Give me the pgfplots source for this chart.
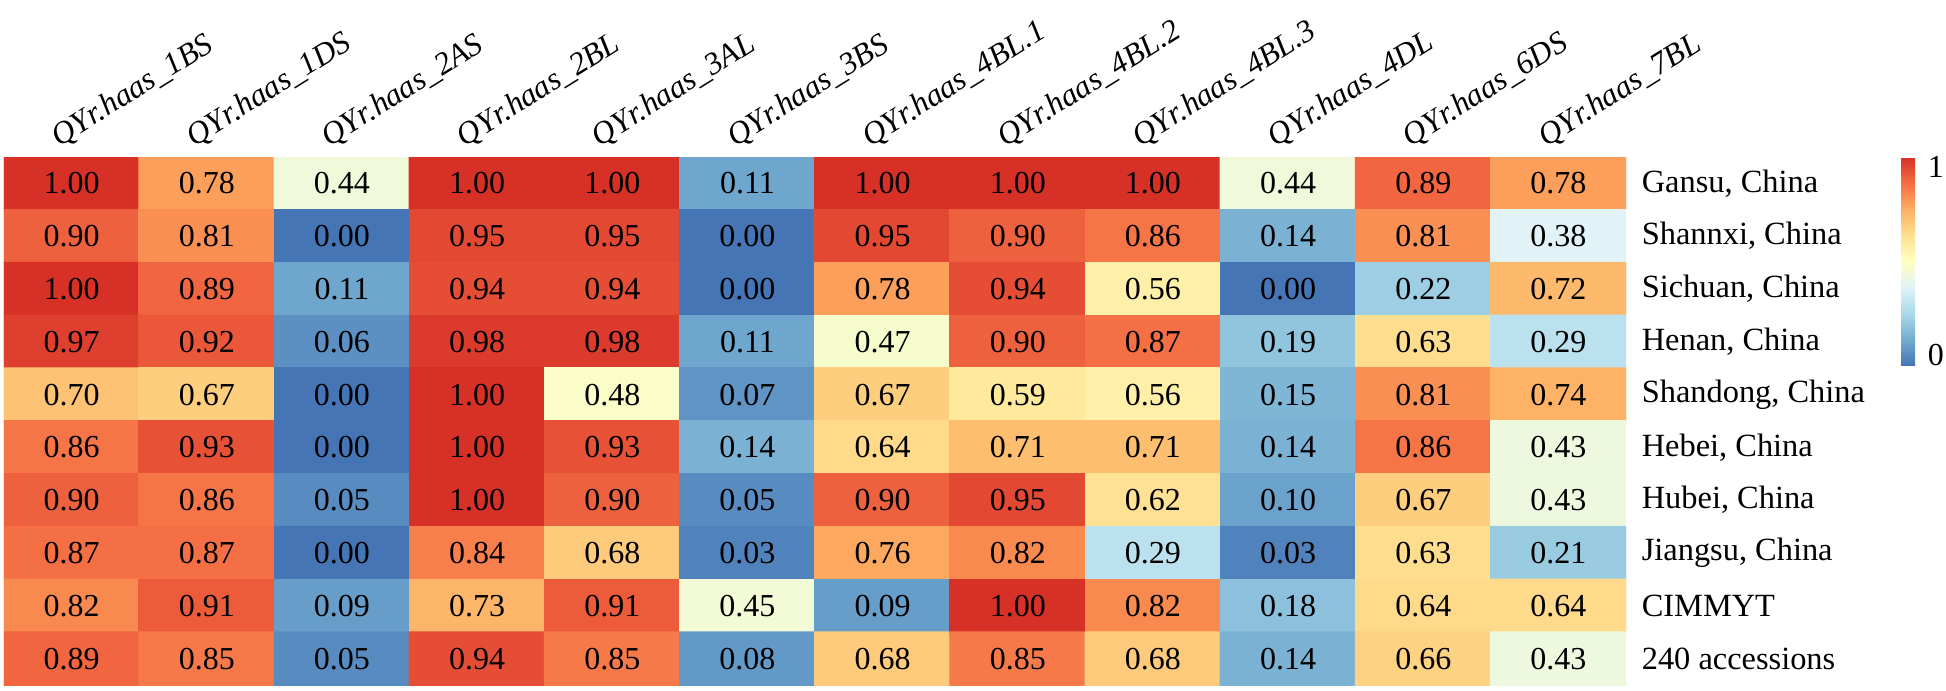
\documentclass[border=0pt]{standalone}
\usepackage{fontspec}
\setmainfont{Liberation Serif}
\usepackage{pgfplots}
\pgfplotsset{compat=1.18}

\pgfplotsset{
  colormap={rdylbu}{
    rgb255=(69,117,180) rgb255=(116,173,209) rgb255=(171,217,233)
    rgb255=(224,243,248) rgb255=(255,255,191) rgb255=(254,224,144)
    rgb255=(253,174,97) rgb255=(244,109,67) rgb255=(215,48,39)},
}

\begin{document}
\begin{tikzpicture}
\path[use as bounding box] (0,0) rectangle (486.5pt,-172.5pt);
\begin{axis}[
  at={(1pt,-39.25pt)}, anchor=north west,
  scale only axis,
  width=405.5pt, height=132pt,
  xmin=-0.5, xmax=11.5, ymin=-0.5, ymax=9.5,
  enlargelimits=false,
  y dir=reverse,
  axis line style={draw=none},
  tick style={draw=none},
  colormap name=rdylbu,
  point meta min=0, point meta max=1,
  /pgf/number format/assume math mode=true,
  xtick={0,...,11},
  xticklabel pos=right,
  xticklabels={QYr.haas\_1BS,QYr.haas\_1DS,QYr.haas\_2AS,QYr.haas\_2BL,QYr.haas\_3AL,QYr.haas\_3BS,QYr.haas\_4BL.1,QYr.haas\_4BL.2,QYr.haas\_4BL.3,QYr.haas\_4DL,QYr.haas\_6DS,QYr.haas\_7BL},
  xticklabel style={font=\fontsize{7.9}{9}\selectfont\itshape, rotate=32, anchor=south west, inner sep=0pt, xshift=-1.5pt, yshift=2.25pt},
  ytick={0,...,9},
  yticklabel pos=right,
  yticklabels={{Gansu, China},{Shannxi, China},{Sichuan, China},{Henan, China},{Shandong, China},{Hebei, China},{Hubei, China},{Jiangsu, China},CIMMYT,240 accessions},
  yticklabel style={font=\fontsize{8.1}{9}\selectfont, anchor=west, inner sep=0pt, xshift=3.75pt},
  colorbar right,
  colorbar style={
    at={(parent axis.north east)}, anchor=north west, xshift=60.25pt,
    width=3.5pt, height=52pt,
    axis line style={draw=none}, tick style={draw=none},
    ytick={0.05,0.95}, yticklabels={0,1},
    yticklabel style={font=\fontsize{8}{9}\selectfont, anchor=west, inner sep=0pt, xshift=3pt},
  },
]
\addplot[matrix plot*, mesh/cols=12, point meta=explicit,
  nodes near coords={\pgfmathprintnumber[fixed,fixed zerofill,precision=2]{\pgfplotspointmeta}},
  nodes near coords align=center,
  every node near coord/.append style={font=\fontsize{8}{9}\selectfont, text=black, anchor=center},
] table[meta=c] {
x y c
0 0 1.00
1 0 0.78
2 0 0.44
3 0 1.00
4 0 1.00
5 0 0.11
6 0 1.00
7 0 1.00
8 0 1.00
9 0 0.44
10 0 0.89
11 0 0.78
0 1 0.90
1 1 0.81
2 1 0.00
3 1 0.95
4 1 0.95
5 1 0.00
6 1 0.95
7 1 0.90
8 1 0.86
9 1 0.14
10 1 0.81
11 1 0.38
0 2 1.00
1 2 0.89
2 2 0.11
3 2 0.94
4 2 0.94
5 2 0.00
6 2 0.78
7 2 0.94
8 2 0.56
9 2 0.00
10 2 0.22
11 2 0.72
0 3 0.97
1 3 0.92
2 3 0.06
3 3 0.98
4 3 0.98
5 3 0.11
6 3 0.47
7 3 0.90
8 3 0.87
9 3 0.19
10 3 0.63
11 3 0.29
0 4 0.70
1 4 0.67
2 4 0.00
3 4 1.00
4 4 0.48
5 4 0.07
6 4 0.67
7 4 0.59
8 4 0.56
9 4 0.15
10 4 0.81
11 4 0.74
0 5 0.86
1 5 0.93
2 5 0.00
3 5 1.00
4 5 0.93
5 5 0.14
6 5 0.64
7 5 0.71
8 5 0.71
9 5 0.14
10 5 0.86
11 5 0.43
0 6 0.90
1 6 0.86
2 6 0.05
3 6 1.00
4 6 0.90
5 6 0.05
6 6 0.90
7 6 0.95
8 6 0.62
9 6 0.10
10 6 0.67
11 6 0.43
0 7 0.87
1 7 0.87
2 7 0.00
3 7 0.84
4 7 0.68
5 7 0.03
6 7 0.76
7 7 0.82
8 7 0.29
9 7 0.03
10 7 0.63
11 7 0.21
0 8 0.82
1 8 0.91
2 8 0.09
3 8 0.73
4 8 0.91
5 8 0.45
6 8 0.09
7 8 1.00
8 8 0.82
9 8 0.18
10 8 0.64
11 8 0.64
0 9 0.89
1 9 0.85
2 9 0.05
3 9 0.94
4 9 0.85
5 9 0.08
6 9 0.68
7 9 0.85
8 9 0.68
9 9 0.14
10 9 0.66
11 9 0.43
};
\end{axis}
\end{tikzpicture}
\end{document}
